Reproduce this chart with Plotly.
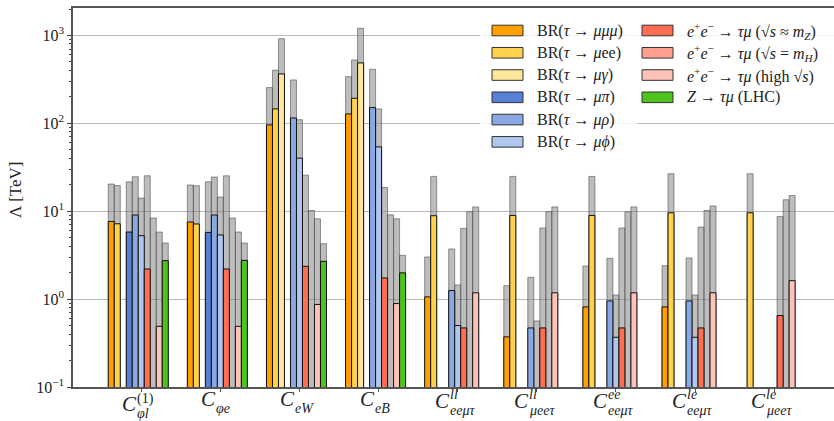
import plotly.graph_objects as go

# ---------------- data ----------------
groups = ["C_phil1", "C_phie", "C_eW", "C_eB", "C_ll_eemt", "C_ll_meet",
          "C_ee_eemt", "C_le_eemt", "C_le_meet"]
label_sub = ["φl", "φe", "eW", "eB", "eeμτ", "μeeτ", "eeμτ", "eeμτ", "μeeτ"]
label_sup = ["(1)", "", "", "", "ll", "ll", "ee", "le", "le"]

# current bounds (coloured) and future sensitivities (grey), Lambda in TeV
mumumu_now = [7.66, 7.54, 96, 128, 1.06, 0.372, 0.815, 0.815, None]
mumumu_fut = [20.4, 19.9, 255, 340, 3.02, 1.42, 2.38, 2.40, None]
muee_now = [7.2, 7.16, 146, 193, 8.89, 8.96, 8.96, 9.6, 9.6]
muee_fut = [19.6, 19.5, 402, 527, 24.9, 24.9, 24.9, 26.7, 26.7]
mugamma_now = [None, None, 365, 487, None, None, None, None, None]
mugamma_fut = [None, None, 920, 1207, None, None, None, None, None]
mupi_now = [5.8, 5.74, None, None, None, None, None, None, None]
mupi_fut = [21.6, 21.6, None, None, None, None, None, None, None]
murho_now = [9.06, 9.06, 115, 151, 1.25, 0.47, 0.953, 0.953, None]
murho_fut = [24.7, 24.5, 312, 413, 3.72, 1.77, 2.91, 2.94, None]
muphi_now = [5.27, 5.37, 40.2, 54, 0.50, None, 0.368, 0.368, None]
muphi_fut = [14.1, 14.5, 110, 146, 1.45, 0.565, 1.115, 1.115, None]
eeZ_now = [2.2, 2.2, 2.36, 1.74, 0.47, 0.47, 0.47, 0.47, 0.65]
eeZ_fut = [25.3, 25.3, 25.7, 18.6, 6.38, 6.44, 6.44, 6.6, 8.73]
eeH_now = [None] * 9
eeH_fut = [8.37, 8.37, 10.2, 9.1, 9.87, 9.87, 9.87, 10.2, 13.5]
eehigh_now = [0.49, 0.49, 0.87, 0.89, 1.18, 1.18, 1.18, 1.18, 1.62]
eehigh_fut = [5.8, 5.8, 8.2, 8.2, 11.2, 11.2, 11.2, 11.5, 15.1]
zlhc_now = [2.74, 2.76, 2.69, 1.99, None, None, None, None, None]
zlhc_fut = [4.35, 4.35, 4.27, 3.15, None, None, None, None, None]

series_names = [
    "BR(<i>τ</i> → <i>μμμ</i>)",
    "BR(<i>τ</i> → <i>μ</i>ee)",
    "BR(<i>τ</i> → <i>μγ</i>)",
    "BR(<i>τ</i> → <i>μπ</i>)",
    "BR(<i>τ</i> → <i>μρ</i>)",
    "BR(<i>τ</i> → <i>μϕ</i>)",
    "<i>e</i><sup>+</sup><i>e</i><sup>−</sup> → <i>τμ</i> (√<i>s</i> ≈ <i>m</i><sub><i>Z</i></sub>)",
    "<i>e</i><sup>+</sup><i>e</i><sup>−</sup> → <i>τμ</i> (√<i>s</i> = <i>m</i><sub><i>H</i></sub>)",
    "<i>e</i><sup>+</sup><i>e</i><sup>−</sup> → <i>τμ</i> (high √<i>s</i>)",
    "<i>Z</i> → <i>τμ</i> (LHC)",
]
now_vals = [mumumu_now, muee_now, mugamma_now, mupi_now, murho_now, muphi_now,
            eeZ_now, eeH_now, eehigh_now, zlhc_now]
fut_vals = [mumumu_fut, muee_fut, mugamma_fut, mupi_fut, murho_fut, muphi_fut,
            eeZ_fut, eeH_fut, eehigh_fut, zlhc_fut]

# ---------------- styles ----------------
colors = ["#FFA000", "#FFD24D", "#FFE699", "#5580D5", "#8AA8E3", "#AFC6EE",
          "#FF6E50", "#FF9F8F", "#FFC2B8", "#4DC41C"]
FONT = "Liberation Serif"
W, H = 834, 421
ML, MR, MT, MB = 73, 0, 8, 34
PW, PH = W - ML - MR, H - MT - MB
bw = 0.07585  # width of one bar slot (category units)

fig = go.Figure()
# grey (future) bars behind
for k in range(10):
    fig.add_trace(go.Bar(
        x=groups, y=fut_vals[k], width=bw, offset=(k - 5.5) * bw,
        marker=dict(color="rgba(128,128,128,0.52)",
                    line=dict(color="rgba(70,70,70,0.55)", width=1)),
        showlegend=False, hoverinfo="y"))
# coloured (current) bars on top
for k in range(10):
    fig.add_trace(go.Bar(
        x=groups, y=now_vals[k], width=bw, offset=(k - 5.5) * bw,
        marker=dict(color=colors[k], line=dict(color="#111111", width=1)),
        showlegend=False, name=series_names[k], hoverinfo="y"))

fig.update_layout(
    width=W, height=H, barmode="overlay",
    margin=dict(l=ML, r=MR, t=MT, b=MB),
    paper_bgcolor="white", plot_bgcolor="white",
    font=dict(family=FONT, size=16, color="#222"),
)
fig.update_xaxes(
    range=[-0.863, 8.757], showticklabels=False,
    showline=True, linecolor="#555", linewidth=1.5, mirror=True,
    ticks="outside", ticklen=3, tickcolor="#555", showgrid=False,
    automargin=False,
)
fig.update_yaxes(
    type="log", range=[-1, 3.3125],
    tickvals=[0.1, 1, 10, 100, 1000],
    ticktext=["10<sup>−1</sup>", "10<sup>0</sup>", "10<sup>1</sup>",
              "10<sup>2</sup>", "10<sup>3</sup>"],
    tickfont=dict(family=FONT, size=16, color="#222"),
    showline=True, linecolor="#555", linewidth=1.5, mirror=False,
    ticks="outside", ticklen=4, tickcolor="#444",
    showgrid=True, gridcolor="#b8b8b8", gridwidth=1,
    minor=dict(ticks="outside", ticklen=2, tickcolor="#444", dtick="D1",
               showgrid=False),
    zeroline=False, automargin=False,
)

# y-axis title
fig.add_annotation(text="Λ [TeV]", xref="paper", yref="paper", x=0,
                   y=(MT + PH - 190) / PH, xanchor="center", yanchor="middle",
                   xshift=-58, textangle=-90, showarrow=False,
                   font=dict(family=FONT, size=17, color="#222"))

# x tick labels: C with stacked sub/superscripts
for i in range(len(groups)):
    split = -3 if len(label_sub[i]) <= 2 else -7
    sup_txt = label_sup[i]
    if sup_txt.startswith("("):
        dy, sup_dy = 5, -2
    elif sup_txt:
        dy, sup_dy = 2, 2
    else:
        dy, sup_dy = 0, 0
    fig.add_annotation(text="<i>C</i>", xref="x", yref="paper", x=i, y=0,
                       xanchor="right", yanchor="top", xshift=split + 1, yshift=2 - dy,
                       showarrow=False, font=dict(family=FONT, size=21, color="#222"))
    fig.add_annotation(text="<i>%s</i>" % label_sub[i], xref="x", yref="paper", x=i, y=0,
                       xanchor="left", yanchor="top", xshift=split - 3, yshift=-12 - dy,
                       showarrow=False, font=dict(family=FONT, size=14, color="#222"))
    if sup_txt:
        sup = sup_txt if sup_txt.startswith("(") else "<i>%s</i>" % sup_txt
        fig.add_annotation(text=sup, xref="x", yref="paper", x=i, y=0,
                           xanchor="left", yanchor="top", xshift=split - 3, yshift=sup_dy,
                           showarrow=False, font=dict(family=FONT, size=14, color="#222"))

# manual legend (two boxes)
def px(xp):
    return (xp - ML) / PW

def py(yp):
    return (MT + PH - yp) / PH

shapes = []
shapes.append(dict(type="rect", xref="paper", yref="paper", x0=px(480), x1=px(638),
                   y0=py(152), y1=py(14), fillcolor="rgba(255,255,255,0.8)",
                   line=dict(width=0), layer="above"))
shapes.append(dict(type="rect", xref="paper", yref="paper", x0=px(638), x1=px(834),
                   y0=py(113), y1=py(14), fillcolor="rgba(255,255,255,0.8)",
                   line=dict(width=0), layer="above"))
row0, drow = 30.5, 22.27
for k in range(10):
    col, row = (0, k) if k < 6 else (1, k - 6)
    x0 = 492 if col == 0 else 642
    yc = row0 + row * drow
    shapes.append(dict(type="rect", xref="paper", yref="paper", x0=px(x0), x1=px(x0 + 31),
                       y0=py(yc + 5.3), y1=py(yc - 5.3), fillcolor=colors[k],
                       line=dict(color="#333", width=1), layer="above"))
    fig.add_annotation(text=series_names[k], xref="paper", yref="paper",
                       x=px(x0 + 43), y=py(yc), xanchor="left", yanchor="middle",
                       showarrow=False, font=dict(family=FONT, size=16, color="#222"))
fig.update_layout(shapes=shapes)

fig.write_html("out.html")
